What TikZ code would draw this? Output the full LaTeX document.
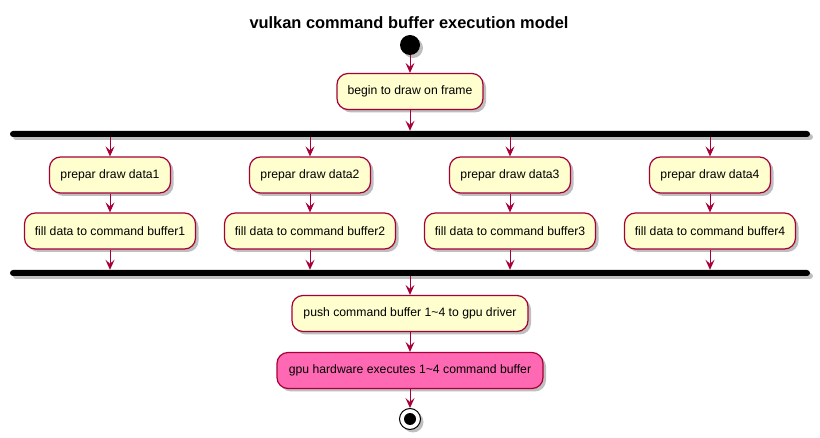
\documentclass[tikz,border=0pt]{standalone}
\usepackage{fontspec}
\setmainfont{Liberation Sans}
\usetikzlibrary{arrows.meta,shadows,calc}
\definecolor{boxfill}{HTML}{FEFECE}
\definecolor{boxline}{HTML}{A80036}
\definecolor{hotpk}{HTML}{FF69B4}
\tikzset{
  shad/.style={drop shadow={shadow xshift=3pt,shadow yshift=-3pt,fill=black,opacity=0.25}},
  act/.style={draw=boxline,fill=boxfill,line width=1.2pt,rounded corners=11pt,
    minimum height=36pt,inner sep=0pt,font=\fontsize{12.2}{14}\selectfont,shad},
  bar/.style={fill=black,rounded corners=3pt,minimum height=6pt,minimum width=800pt,inner sep=0pt,shad},
  flow/.style={draw=boxline,line width=1pt,-{Stealth[length=10pt,width=9pt,inset=4pt]}},
}
\begin{document}
\begin{tikzpicture}[x=1pt,y=-1pt]
\useasboundingbox (0,0) rectangle (820,438);
\node[font=\fontsize{16.4}{18}\selectfont\bfseries] (title) at (409,23) {vulkan command buffer execution model};
\node[circle,fill=black,minimum size=20pt,inner sep=0pt,shad] (start) at (410,45) {};
\node[act,minimum width=146pt] (begin) at (410,91.5) {begin to draw on frame};
\node[bar] (fork) at (410,134) {};
\foreach \i/\x in {1/110,2/310,3/510,4/710}{
  \node[act,minimum width=121pt] (p\i) at (\x,175) {prepar draw data\i};
  \node[act,minimum width=171pt] (f\i) at (\x,231) {fill data to command buffer\i};
}
\node[bar] (join) at (410,273) {};
\node[act,minimum width=236pt] (push) at (410,313.5) {push command buffer 1\textasciitilde 4 to gpu driver};
\node[act,minimum width=266pt,fill=hotpk] (gpu) at (410,370.5) {gpu hardware executes 1\textasciitilde 4 command buffer};
\node[circle,draw=black,line width=1pt,fill=white,minimum size=21pt,inner sep=0pt,shad] (stop) at (410,419) {};
\node[circle,fill=black,minimum size=12pt,inner sep=0pt] (stopin) at (stop) {};
\draw[flow] (start) -- (begin);
\draw[flow] (begin) -- (begin |- fork.north);
\foreach \i in {1,2,3,4}{
  \draw[flow] (fork.south -| p\i) -- (p\i);
  \draw[flow] (p\i) -- (f\i);
  \draw[flow] (f\i) -- (f\i |- join.north);
}
\draw[flow] (join.south -| push) -- (push);
\draw[flow] (push) -- (gpu);
\draw[flow] (gpu) -- (stop);
\end{tikzpicture}
\end{document}
